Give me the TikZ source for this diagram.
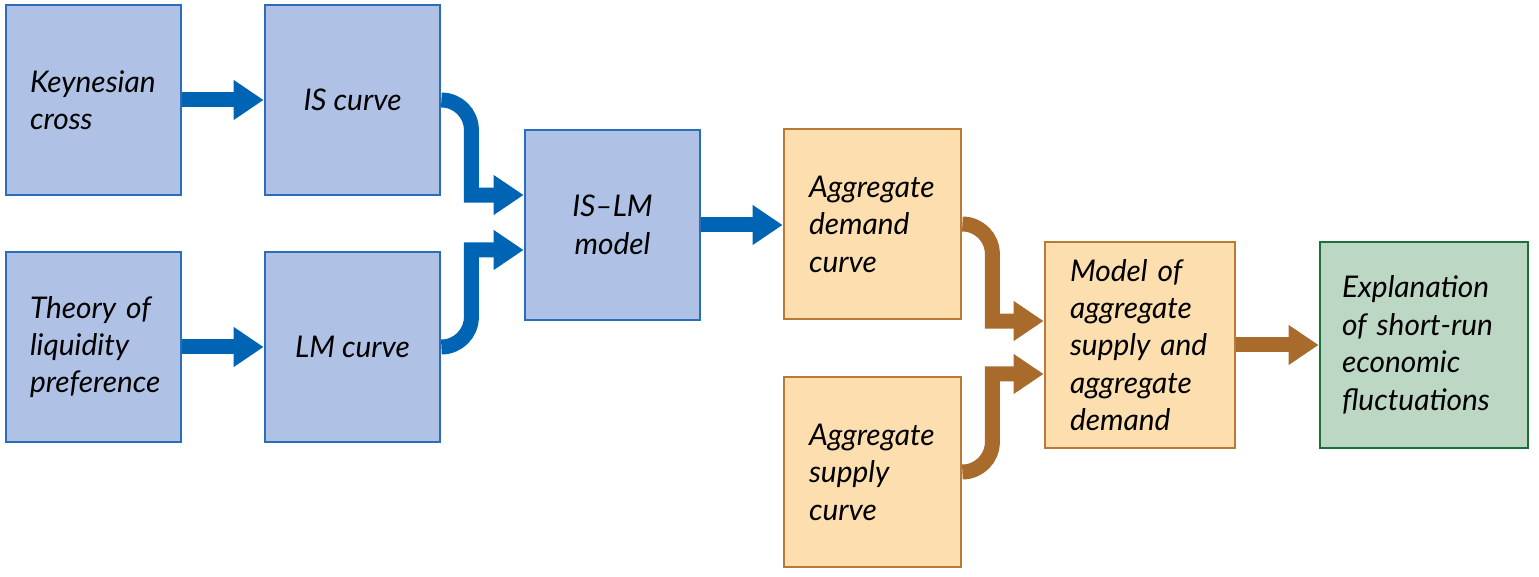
\documentclass[tikz,border=0pt]{standalone}
\usepackage{fontspec}
\setsansfont{Lato}
\usetikzlibrary{arrows.meta}
\definecolor{bluefill}{HTML}{AFC2E5}
\definecolor{blueline}{HTML}{2A6EBB}
\definecolor{bluearrow}{HTML}{0064B4}
\definecolor{orgfill}{HTML}{FDDEAF}
\definecolor{orgline}{HTML}{B87A35}
\definecolor{orgarrow}{HTML}{A86B2C}
\definecolor{grnfill}{HTML}{BDD7C5}
\definecolor{grnline}{HTML}{1A7038}
\begin{document}
\begin{tikzpicture}[
    x=0.02cm, y=-0.02cm,
    box/.style={draw, line width=1.6pt, minimum width=3.5cm, minimum height=3.8cm,
      inner xsep=0.48cm, inner ysep=0pt,
      font=\sffamily\itshape\fontsize{17}{21.3}\selectfont},
    bluebox/.style={box, fill=bluefill, draw=blueline},
    orgbox/.style={box, fill=orgfill, draw=orgline},
    grnbox/.style={box, fill=grnfill, draw=grnline},
    lefttext/.style={align=left, text width=2.54cm},
    link/.style={line width=0.3cm, -{Triangle[length=0.6cm, width=0.76cm]}},
    blink/.style={link, draw=bluearrow},
    olink/.style={link, draw=orgarrow},
    ]
    \useasboundingbox (0,0) rectangle (1539,577);
    \node[bluebox, lefttext] (keyn) at (93.5,100) {Keynesian\\cross};
    \node[bluebox, align=center] (iscurve) at (352.5,100) {IS curve};
    \node[bluebox, lefttext] (theory) at (93.5,347) {Theory of\\liquidity\\preference};
    \node[bluebox, align=center] (lmcurve) at (352.5,347) {LM curve};
    \node[bluebox, align=center] (islm) at (612.5,225) {IS--LM\\model};
    \node[orgbox, lefttext, inner xsep=0.5cm] (ad) at (872.5,224) {Aggregate\\demand\\curve};
    \node[orgbox, lefttext, inner xsep=0.5cm] (as) at (872.5,472) {Aggregate\\supply\\curve};
    \node[orgbox, align=left, minimum width=3.8cm, minimum height=4.12cm,
      inner xsep=0.5cm, text width=2.8cm] (adas) at (1140,345)
      {Model of\\aggregate\\supply and\\aggregate\\demand};
    \node[grnbox, align=left, minimum width=4.16cm, minimum height=4.12cm,
      inner xsep=0.44cm, text width=3.28cm] (expl) at (1424,345)
      {Explanation\\of short-run\\economic\\fluctuations};
    \draw[blink] (keyn.east) -- (iscurve.west);
    \draw[blink] (theory.east) -- (lmcurve.west);
    \draw[blink] (iscurve.east) arc[start angle=90, end angle=0, radius=0.6cm]
      |- ([yshift=0.6cm]islm.west);
    \draw[blink] (lmcurve.east) arc[start angle=-90, end angle=0, radius=0.6cm]
      |- ([yshift=-0.5cm]islm.west);
    \draw[blink] (islm.east) -- (islm.east -| ad.west);
    \draw[olink] (ad.east) arc[start angle=90, end angle=0, radius=0.6cm]
      |- ([yshift=0.48cm]adas.west);
    \draw[olink] (as.east) arc[start angle=-90, end angle=0, radius=0.6cm]
      |- ([yshift=-0.58cm]adas.west);
    \draw[olink] (adas.east) -- (expl.west);
  \end{tikzpicture}
\end{document}
